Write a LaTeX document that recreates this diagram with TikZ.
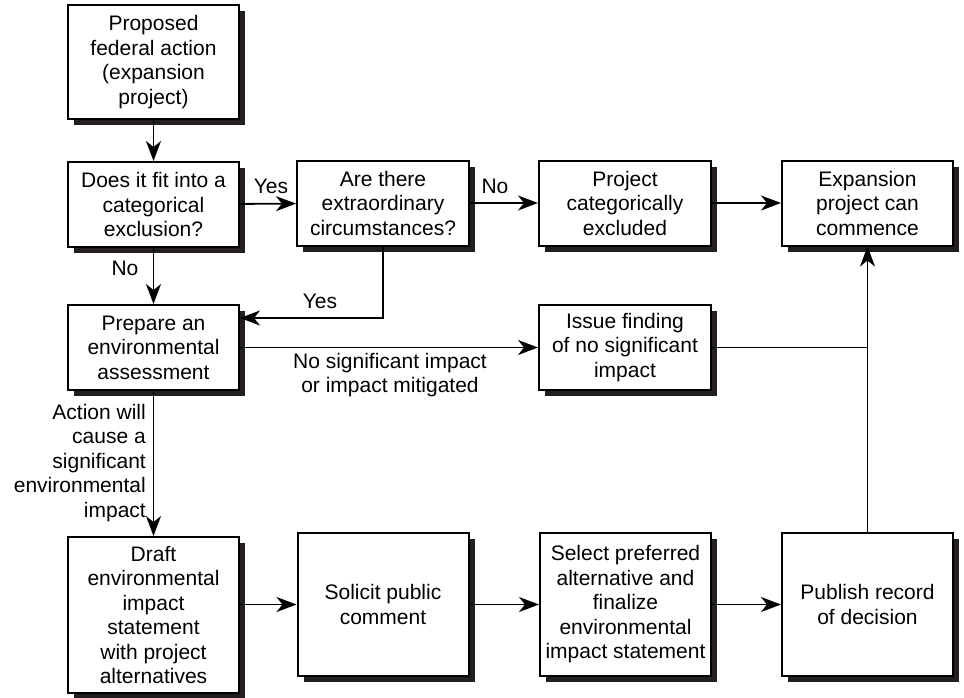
\documentclass[tikz,border=0pt]{standalone}
\usepackage{fontspec}
\setmainfont{Liberation Sans}
\usetikzlibrary{arrows.meta,shadows,calc}
\definecolor{shadowc}{HTML}{231F20}
\begin{document}
\begin{tikzpicture}[x=1pt,y=-1pt,
  every node/.style={font=\fontsize{21pt}{24.5pt}\selectfont},
  box/.style={draw, line width=2pt, fill=white, inner sep=0pt, align=center,
    minimum width=171pt, minimum height=85pt,
    general shadow={fill=shadowc, shadow xshift=6pt, shadow yshift=-6pt}},
  conn/.style={line width=1.8pt},
  arr/.style={conn, -{Stealth[length=20pt,width=15pt,inset=6pt]}},
  lbl/.style={inner sep=0pt, align=center}]
\useasboundingbox (0,0) rectangle (964,697);

\node[box, minimum height=114pt] (b1) at (153.5,62) {Proposed\\federal action\\(expansion\\project)};
\node[box] (b2) at (153.5,204.5) {Does it fit into a\\categorical\\exclusion?};
\node[box, minimum width=172pt] (b3) at (383,203) {Are there\\extraordinary\\circumstances?};
\node[box, minimum width=172pt] (b4) at (625,203) {Project\\categorically\\excluded};
\node[box] (b5) at (867.5,203) {Expansion\\project can\\commence};
\node[box] (b6) at (153.5,347.5) {Prepare an\\environmental\\assessment};
\node[box, minimum width=172pt] (b7) at (625,347.5) {Issue finding\\of no significant\\impact};
\node[box, minimum height=156pt] (b8) at (153.5,615) {Draft\\environmental\\impact\\statement\\with project\\alternatives};
\node[box, minimum height=143pt] (b9) at (383,604.5) {Solicit public\\comment};
\node[box, minimum height=143pt] (b10) at (625.5,604.5) {Select preferred\\alternative and\\finalize\\environmental\\impact statement};
\node[box, minimum height=143pt] (b11) at (867.5,604.5) {Publish record\\of decision};

\draw[arr] (b1) -- (b2);
\draw[arr] (b2) -- (b3);
\draw[arr] (b3) -- (b4);
\draw[arr] (b4) -- (b5);
\draw[arr] (b2) -- (b6);
\draw[arr] (b3.south) |- ([yshift=29.5pt]b6.east);
\draw[arr] (b6) -- (b7);
\coordinate (j) at (b5.south |- b7.east);
\draw[conn] (b7.east) -- (j);
\draw[arr] (b11.north) -- (b5.south);
\draw[arr] (b6) -- (b8);
\draw[arr] (b8.east |- b9.west) -- (b9.west);
\draw[arr] (b9) -- (b10);
\draw[arr] (b10) -- (b11);

\node[lbl] (l1) at (271,186) {Yes};
\node[lbl] (l2) at (495,186) {No};
\node[lbl] (l3) at (125,268) {No};
\node[lbl] (l4) at (320,301) {Yes};
\node[lbl] (l5) at (390,375) {No significant impact\\or impact mitigated};
\node[lbl, align=right, anchor=north east] (l6) at (146,404) {Action will\\cause a\\significant\\environmental\\impact};
\end{tikzpicture}
\end{document}
